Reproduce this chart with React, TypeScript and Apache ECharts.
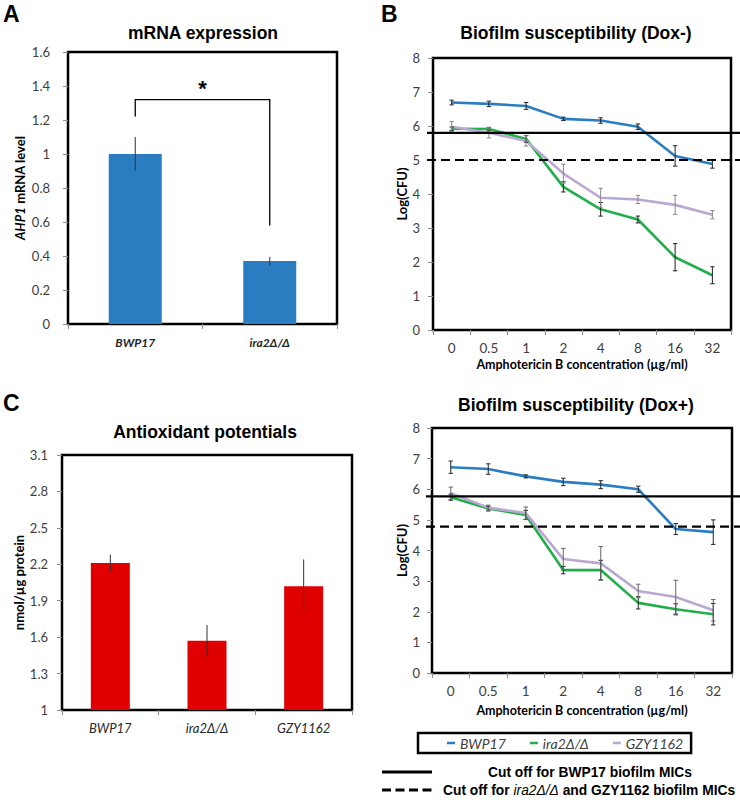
import { useEffect, useRef } from 'react';
import * as echarts from 'echarts';

// ---------- Panel A : mRNA expression ----------
const strainsA = ['BWP17', 'ira2Δ/Δ'];
const mrnaLevel = [1.0, 0.37];
const mrnaErr = [0.1, 0.025];
const mrnaTicks = [0, 0.2, 0.4, 0.6, 0.8, 1, 1.2, 1.4, 1.6];
const bracketY = [1.22, 1.32, 0.58]; // left foot, top, right foot

// ---------- Panel C : antioxidant potentials ----------
const strainsC = ['BWP17', 'ira2Δ/Δ', 'GZY1162'];
const antioxidant = [2.21, 1.57, 2.02];
const antioxidantErr = [0.07, 0.13, 0.22];
const antioxTicks = [1, 1.3, 1.6, 1.9, 2.2, 2.5, 2.8, 3.1];

// ---------- Panels B / D : biofilm susceptibility ----------
const concentrations = ['0', '0.5', '1', '2', '4', '8', '16', '32'];
const logTicks = [0, 1, 2, 3, 4, 5, 6, 7, 8];

const doxMinusBWP17 = [6.69, 6.65, 6.59, 6.21, 6.16, 5.98, 5.12, 4.88];
const doxMinusBWP17Err = [0.07, 0.08, 0.1, 0.05, 0.08, 0.08, 0.3, 0.12];
const doxMinusIra2 = [5.92, 5.91, 5.62, 4.21, 3.55, 3.25, 2.14, 1.61];
const doxMinusIra2Err = [0.05, 0.05, 0.1, 0.15, 0.2, 0.1, 0.4, 0.25];
const doxMinusGZY = [5.98, 5.8, 5.56, 4.6, 3.89, 3.84, 3.68, 3.39];
const doxMinusGZYErr = [0.15, 0.15, 0.15, 0.28, 0.28, 0.12, 0.28, 0.12];
const doxMinusCutoffs = [5.8, 5.0];

const doxPlusBWP17 = [6.72, 6.66, 6.42, 6.24, 6.15, 6.0, 4.7, 4.6];
const doxPlusBWP17Err = [0.2, 0.17, 0.05, 0.12, 0.13, 0.1, 0.18, 0.4];
const doxPlusIra2 = [5.74, 5.37, 5.16, 3.36, 3.36, 2.29, 2.08, 1.92];
const doxPlusIra2Err = [0.1, 0.08, 0.15, 0.12, 0.32, 0.2, 0.18, 0.35];
const doxPlusGZY = [5.87, 5.4, 5.22, 3.72, 3.58, 2.68, 2.48, 2.05];
const doxPlusGZYErr = [0.2, 0.08, 0.2, 0.35, 0.55, 0.22, 0.55, 0.35];
const doxPlusCutoffs = [5.77, 4.78];

const BLUE = '#2A7DC0';
const GREEN = '#22AE4A';
const PURPLE = '#BBA8D2';
const RED = '#E00000';
const LABEL = '#404040';
const NUM_FONT = 'Lato, "Open Sans", sans-serif';
const HEAD_FONT = '"Liberation Sans", Arial, sans-serif';

function errorSeries(axis: number, values: number[], errs: number[], color: string, cap: number, z: number) {
  return {
    type: 'custom',
    xAxisIndex: axis,
    yAxisIndex: axis,
    silent: true,
    z,
    encode: { x: 0, y: [1, 2] },
    data: values.map((v, i) => [i, v - errs[i], v + errs[i]]),
    renderItem: (_p: any, api: any) => {
      const x = api.value(0);
      const lo = api.coord([x, api.value(1)]);
      const hi = api.coord([x, api.value(2)]);
      const children: any[] = [
        { type: 'line', shape: { x1: lo[0], y1: lo[1], x2: hi[0], y2: hi[1] }, style: { stroke: color, lineWidth: 1 } },
      ];
      if (cap > 0) {
        children.push({ type: 'line', shape: { x1: lo[0] - cap, y1: lo[1], x2: lo[0] + cap, y2: lo[1] }, style: { stroke: color, lineWidth: 1 } });
        children.push({ type: 'line', shape: { x1: hi[0] - cap, y1: hi[1], x2: hi[0] + cap, y2: hi[1] }, style: { stroke: color, lineWidth: 1 } });
      }
      return { type: 'group', children };
    },
  };
}

function cutoffSeries(axis: number, values: number[]) {
  return {
    type: 'custom',
    xAxisIndex: axis,
    yAxisIndex: axis,
    silent: true,
    clip: false,
    z: 20,
    encode: { x: 0, y: 1 },
    data: values.map((v, i) => [0, v, i]),
    renderItem: (params: any, api: any) => {
      const y = api.coord([0, api.value(1)])[1];
      const dashed = api.value(2) === 1;
      return {
        type: 'line',
        shape: { x1: params.coordSys.x - 6, y1: y, x2: api.getWidth(), y2: y },
        style: { stroke: '#000', lineWidth: 2.2, lineDash: dashed ? [9, 5] : null },
      };
    },
  };
}

function lineSeries(axis: number, name: string, values: number[], color: string) {
  return {
    type: 'line',
    name,
    xAxisIndex: axis,
    yAxisIndex: axis,
    data: values,
    symbol: 'none',
    z: 5,
    lineStyle: { color, width: 2.6 },
    itemStyle: { color },
  };
}

function yAxisBase(gridIndex: number, min: number, max: number, ticks: number[], margin: number, name: string, nameGap: number, nameSize: number) {
  return {
    type: 'value',
    gridIndex,
    min,
    max,
    splitLine: { show: false },
    axisLine: { show: false },
    axisTick: { show: true, length: 5, customValues: ticks, lineStyle: { color: '#8c8c8c' } },
    axisLabel: { customValues: ticks, margin, color: LABEL, fontFamily: NUM_FONT, fontSize: 13, showMinLabel: true, showMaxLabel: true },
    name,
    nameLocation: 'middle',
    nameRotate: 90,
    nameGap,
    nameTextStyle: {
      fontFamily: NUM_FONT,
      fontWeight: 'bold',
      fontSize: nameSize,
      color: '#000',
      rich: { i: { fontStyle: 'italic', fontWeight: 'bold', fontFamily: NUM_FONT, fontSize: nameSize, color: '#000' } },
    },
  };
}

function xAxisBase(gridIndex: number, data: string[], labelStyle: any, name?: string, nameGap?: number) {
  return {
    type: 'category',
    gridIndex,
    data,
    axisLine: { show: false },
    axisTick: { show: true, length: 5, lineStyle: { color: '#8c8c8c' } },
    axisLabel: { margin: 11, color: LABEL, fontFamily: NUM_FONT, fontSize: 13.5, ...labelStyle },
    splitLine: { show: false },
    name: name || '',
    nameLocation: 'middle',
    nameGap: nameGap || 0,
    nameTextStyle: { fontFamily: NUM_FONT, fontWeight: 'bold', fontSize: 12.5, color: '#000' },
  };
}

const gridStyle = { show: true, borderColor: '#000', borderWidth: 2.5, backgroundColor: 'transparent' };

const option: any = {
  animation: false,
  backgroundColor: '#fff',
  grid: [
    { left: 68, top: 52, width: 269, height: 272, ...gridStyle },
    { left: 433, top: 58, width: 298, height: 272, ...gridStyle },
    { left: 62, top: 455, width: 290, height: 255, ...gridStyle },
    { left: 432, top: 428, width: 300, height: 245, ...gridStyle },
  ],
  xAxis: [
    xAxisBase(0, strainsA, { fontWeight: 'bold', fontStyle: 'italic', color: '#262626', margin: 12, fontSize: 12 }),
    xAxisBase(1, concentrations, {}, 'Amphotericin B concentration (µg/ml)', 28),
    xAxisBase(2, strainsC, { fontStyle: 'italic', color: '#262626', fontSize: 13 }),
    xAxisBase(3, concentrations, {}, 'Amphotericin B concentration (µg/ml)', 31),
  ],
  yAxis: [
    yAxisBase(0, 0, 1.6, mrnaTicks, 18, '{i|AHP1} mRNA level', 42, 13),
    yAxisBase(1, 0, 8, logTicks, 13, 'Log(CFU)', 25, 13),
    yAxisBase(2, 1, 3.1, antioxTicks, 14, 'nmol/µg protein', 36, 13),
    yAxisBase(3, 0, 8, logTicks, 12, 'Log(CFU)', 24, 13),
  ],
  legend: {
    data: ['BWP17', 'ira2Δ/Δ', 'GZY1162'],
    left: 418,
    top: 733,
    orient: 'horizontal',
    borderColor: '#000',
    borderWidth: 2.5,
    padding: [2, 8, 2, 29],
    itemGap: 24,
    itemWidth: 8,
    itemHeight: 2.5,
    icon: 'rect',
    selectedMode: false,
    textStyle: { fontFamily: NUM_FONT, fontStyle: 'italic', fontSize: 14, color: LABEL, lineHeight: 16 },
  },
  series: [
    // Panel A
    { type: 'bar', xAxisIndex: 0, yAxisIndex: 0, data: mrnaLevel, barWidth: 53, itemStyle: { color: BLUE }, z: 2 },
    errorSeries(0, mrnaLevel, mrnaErr, '#333', 0, 4),
    {
      type: 'custom',
      xAxisIndex: 0,
      yAxisIndex: 0,
      silent: true,
      clip: false,
      encode: { x: 0, y: [1, 2, 3] },
      data: [[0, bracketY[0], bracketY[1], bracketY[2]]],
      renderItem: (_p: any, api: any) => {
        const a = api.coord([0, api.value(1)]);
        const b = api.coord([0, api.value(2)]);
        const c = api.coord([1, api.value(2)]);
        const d = api.coord([1, api.value(3)]);
        return {
          type: 'group',
          children: [
            { type: 'polyline', shape: { points: [a, b, c, d] }, style: { stroke: '#000', lineWidth: 1.3, fill: null } },
            {
              type: 'text',
              x: (b[0] + c[0]) / 2,
              y: b[1] - 11,
              style: { text: '*', align: 'center', verticalAlign: 'middle', font: `bold 22px ${HEAD_FONT}`, fill: '#000' },
            },
          ],
        };
      },
    },
    // Panel B (Dox-)
    lineSeries(1, 'BWP17', doxMinusBWP17, BLUE),
    lineSeries(1, 'ira2Δ/Δ', doxMinusIra2, GREEN),
    lineSeries(1, 'GZY1162', doxMinusGZY, PURPLE),
    errorSeries(1, doxMinusBWP17, doxMinusBWP17Err, '#222', 2.2, 10),
    errorSeries(1, doxMinusIra2, doxMinusIra2Err, '#222', 2.2, 10),
    errorSeries(1, doxMinusGZY, doxMinusGZYErr, '#888', 2.2, 10),
    cutoffSeries(1, doxMinusCutoffs),
    // Panel C
    { type: 'bar', xAxisIndex: 2, yAxisIndex: 2, data: antioxidant, barWidth: 39, itemStyle: { color: RED }, z: 2 },
    errorSeries(2, antioxidant, antioxidantErr, '#333', 0, 4),
    // Panel D (Dox+)
    lineSeries(3, 'BWP17', doxPlusBWP17, BLUE),
    lineSeries(3, 'ira2Δ/Δ', doxPlusIra2, GREEN),
    lineSeries(3, 'GZY1162', doxPlusGZY, PURPLE),
    errorSeries(3, doxPlusBWP17, doxPlusBWP17Err, '#222', 2.2, 10),
    errorSeries(3, doxPlusIra2, doxPlusIra2Err, '#222', 2.2, 10),
    errorSeries(3, doxPlusGZY, doxPlusGZYErr, '#666', 2.2, 10),
    cutoffSeries(3, doxPlusCutoffs),
  ],
  graphic: [
    { type: 'text', x: 3, y: 14, style: { text: 'A', font: `bold 23px ${HEAD_FONT}`, fill: '#000', verticalAlign: 'middle' } },
    { type: 'text', x: 381, y: 14, style: { text: 'B', font: `bold 23px ${HEAD_FONT}`, fill: '#000', verticalAlign: 'middle' } },
    { type: 'text', x: 3, y: 403, style: { text: 'C', font: `bold 23px ${HEAD_FONT}`, fill: '#000', verticalAlign: 'middle' } },
    { type: 'text', x: 203, y: 33, style: { text: 'mRNA expression', font: `bold 17.5px ${HEAD_FONT}`, fill: '#000', align: 'center', verticalAlign: 'middle' } },
    { type: 'text', x: 576, y: 33, style: { text: 'Biofilm susceptibility (Dox-)', font: `bold 17.5px ${HEAD_FONT}`, fill: '#000', align: 'center', verticalAlign: 'middle' } },
    { type: 'text', x: 205, y: 432, style: { text: 'Antioxidant potentials', font: `bold 17.5px ${HEAD_FONT}`, fill: '#000', align: 'center', verticalAlign: 'middle' } },
    { type: 'text', x: 576, y: 405, style: { text: 'Biofilm susceptibility (Dox+)', font: `bold 17.5px ${HEAD_FONT}`, fill: '#000', align: 'center', verticalAlign: 'middle' } },
    { type: 'line', shape: { x1: 382, y1: 772, x2: 432, y2: 772 }, style: { stroke: '#000', lineWidth: 3 } },
    { type: 'text', x: 488, y: 772, style: { text: 'Cut off for BWP17 biofilm MICs', font: `bold 13.8px ${HEAD_FONT}`, fill: '#000', verticalAlign: 'middle' } },
    { type: 'line', shape: { x1: 382, y1: 790, x2: 432, y2: 790 }, style: { stroke: '#000', lineWidth: 3, lineDash: [9, 4.5] } },
    {
      type: 'text',
      x: 443,
      y: 790,
      style: {
        text: 'Cut off for {i|ira2Δ/Δ} and GZY1162 biofilm MICs',
        font: `bold 13.8px ${HEAD_FONT}`,
        fill: '#000',
        verticalAlign: 'middle',
        rich: { i: { fontStyle: 'italic', fontWeight: 'normal', fontFamily: HEAD_FONT, fontSize: 13.8, fill: '#000' } },
      },
    },
  ],
};

export default function App() {
  const ref = useRef<HTMLDivElement>(null);
  useEffect(() => {
    const chart = echarts.init(ref.current as HTMLDivElement, null, { renderer: 'svg', width: 740, height: 803 });
    chart.setOption(option);
    return () => chart.dispose();
  }, []);
  return <div ref={ref} style={{ position: 'absolute', left: 0, top: 0, width: 740, height: 803, background: '#fff' }} />;
}
